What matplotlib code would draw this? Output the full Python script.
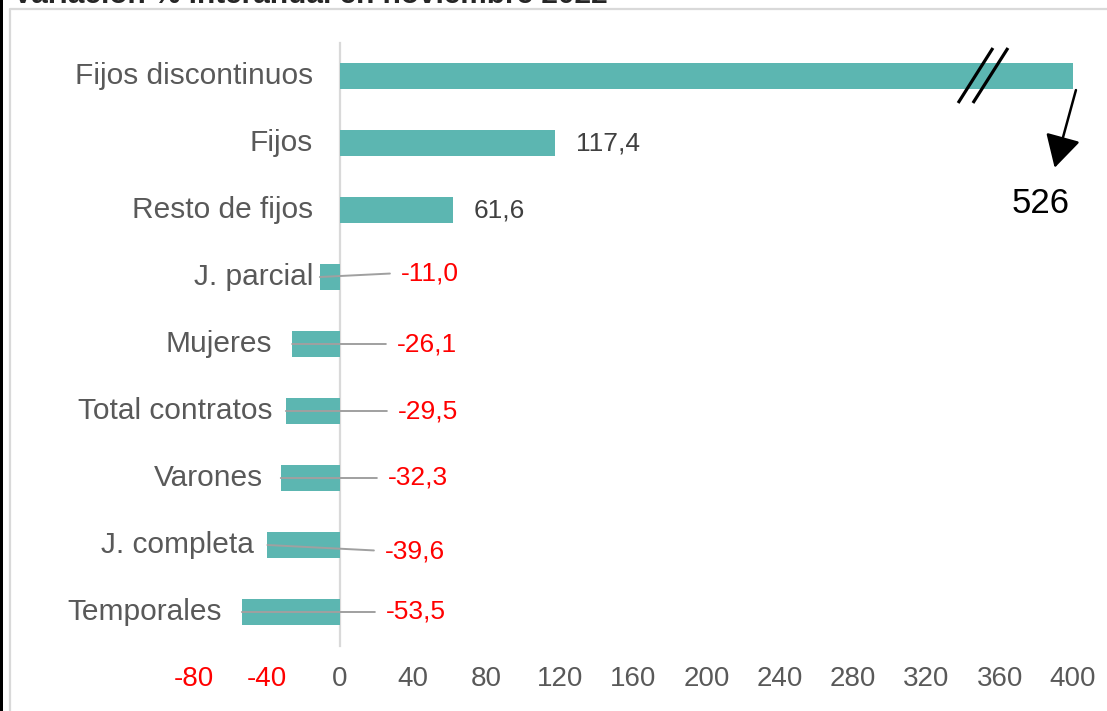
import matplotlib
matplotlib.use("Agg")
import matplotlib.pyplot as plt
from matplotlib.lines import Line2D
from matplotlib.patches import Rectangle
from matplotlib import font_manager

# ---------------- data ----------------
categories = ["Fijos discontinuos", "Fijos", "Resto de fijos", "J. parcial",
              "Mujeres", "Total contratos", "Varones", "J. completa", "Temporales"]
values = [526.0, 117.4, 61.6, -11.0, -26.1, -29.5, -32.3, -39.6, -53.5]
value_labels = ["526", "117,4", "61,6", "-11,0", "-26,1", "-29,5", "-32,3", "-39,6", "-53,5"]
xticks = [-80, -40, 0, 40, 80, 120, 160, 200, 240, 280, 320, 360, 400]
title = "Variación % interanual en noviembre 2022"

# ---------------- layout (pixel offsets) ----------------
cat_label_right_px = [-27, -27, -27, -27, -68, -68, -77, -86, -118]   # from x=0
neg_label_left_px = [None, None, None, 61, 57, 58, 48, 45, 46]         # from x=0
neg_label_dy_px = [0, 0, 0, -4, 0, 0, 0, 6, 0]

W, H, DPI = 1107, 711, 100
PX = 72.0 / DPI  # points per pixel

families = ["Liberation Sans", "DejaVu Sans"]
avail = {f.name for f in font_manager.fontManager.ttflist}
narrow = ["Liberation Sans Narrow"] + families if "Liberation Sans Narrow" in avail else families
plt.rcParams["font.family"] = families

teal = "#5CB6B1"
gray_txt = "#595959"
red = "#FF0000"

fig = plt.figure(figsize=(W / DPI, H / DPI), dpi=DPI)
fig.patch.set_facecolor("white")
ax = fig.add_axes([193.4 / W, 1 - 645.5 / H, (1073 - 193.4) / W, (645.5 - 42.5) / H])
ax.set_facecolor("none")

ypos = list(range(len(categories)))
ax.barh(ypos, values, height=0.39, color=teal, zorder=2)
ax.set_xlim(-80, 400)
ax.set_ylim(len(categories) - 0.5, -0.5)

for s in ["top", "right", "bottom"]:
    ax.spines[s].set_visible(False)
ax.spines["left"].set_position(("data", 0))
ax.spines["left"].set_color("#D9D9D9")
ax.spines["left"].set_linewidth(1.6)
ax.spines["left"].set_zorder(1)
ax.set_yticks([])

ax.set_xticks(xticks)
ax.set_xticklabels([str(t) for t in xticks], family=narrow, fontsize=20)
for lab, t in zip(ax.get_xticklabels(), xticks):
    lab.set_color(red if t < 0 else gray_txt)
ax.tick_params(axis="x", length=0, pad=15)

# category labels
for i, (cat, off) in enumerate(zip(categories, cat_label_right_px)):
    ax.annotate(cat, xy=(0, i), xycoords="data", xytext=(off * PX, 0),
                textcoords="offset points", ha="right", va="center",
                fontsize=21.5, color=gray_txt, zorder=4)

# value labels
for i, (v, lab) in enumerate(zip(values, value_labels)):
    if v >= 400:
        continue
    if v > 0:
        ax.annotate(lab, xy=(v, i), xytext=(21 * PX, 0), textcoords="offset points",
                    ha="left", va="center", fontsize=19, color="#404040")
    else:
        lx = neg_label_left_px[i]
        dy = neg_label_dy_px[i]
        ax.annotate(lab, xy=(v, i), xycoords="data",
                    xytext=(lx * PX - v * 1.8325 * PX, -dy * PX),
                    textcoords="offset points", ha="left", va="center",
                    fontsize=19, color=red, zorder=4,
                    arrowprops=dict(arrowstyle="-", color="#A0A0A0", lw=1.4,
                                    shrinkA=6, shrinkB=0, relpos=(0, 0.5)))

# break marks on the truncated bar
for x0, x1 in [(337.3, 356.3), (345.4, 364.5)]:
    ax.add_line(Line2D([x0, x1], [0.403, -0.418], color="black", lw=2.3,
                       clip_on=False, zorder=5, solid_capstyle="butt"))

# arrow pointing to the real value
ax.annotate("", xy=(390, 1.37), xytext=(401.6, 0.21), xycoords="data",
            arrowprops=dict(arrowstyle="-|>,head_length=1.0,head_width=0.55",
                            mutation_scale=20, color="black", lw=1.8,
                            shrinkA=0, shrinkB=0), annotation_clip=False)
ax.annotate(value_labels[0], xy=(382.5, 1.9), xycoords="data", ha="center",
            va="center", fontsize=25, color="black", annotation_clip=False)

# frame decorations
fig.add_artist(Rectangle((0, 0), 2.7 / W, 1, transform=fig.transFigure,
                         color="black", lw=0))
fig.add_artist(Line2D([10 / W, 10 / W, 1], [0, 1 - 9 / H, 1 - 9 / H],
                      transform=fig.transFigure, color="#D9D9D9", lw=1.6))

# title, cut off at the top edge as in the reference
fig.text(13 / W, 1 - 3 / H, title, ha="left", va="baseline", fontsize=21.4,
         fontweight="bold", color="#262626")

fig.savefig("out.png", dpi=DPI)
